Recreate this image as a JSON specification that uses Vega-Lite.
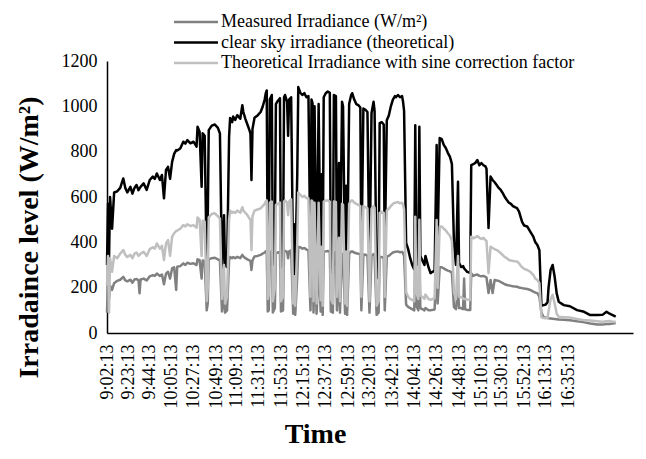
{
"$schema": "https://vega.github.io/schema/vega-lite/v6.json",
"width": 526,
"height": 272,
"autosize": {"type": "none"},
"padding": {"left": 107, "top": 61, "right": 13, "bottom": 126},
"background": "white",
"config": {"font": "Liberation Serif", "view": {"stroke": null}},
"data": {"format": {"parse": {"t": "date:'%H:%M'"}}, "values": [
{"t":"09:02","c":300,"s":210,"m":90},
{"t":"09:03","c":570,"s":340,"m":240},
{"t":"09:04","c":330,"s":90,"m":150},
{"t":"09:05","c":600,"s":330,"m":210},
{"t":"09:07","c":460,"s":270,"m":190},
{"t":"09:09","c":620,"s":340,"m":220},
{"t":"09:12","c":625,"s":330,"m":230},
{"t":"09:15","c":640,"s":350,"m":235},
{"t":"09:18","c":682,"s":366,"m":248},
{"t":"09:20","c":640,"s":345,"m":232},
{"t":"09:22","c":620,"s":335,"m":228},
{"t":"09:25","c":645,"s":345,"m":235},
{"t":"09:27","c":615,"s":330,"m":222},
{"t":"09:29","c":640,"s":350,"m":236},
{"t":"09:31","c":653,"s":355,"m":238},
{"t":"09:33","c":630,"s":340,"m":232},
{"t":"09:34","c":638,"s":345,"m":175},
{"t":"09:35","c":645,"s":350,"m":236},
{"t":"09:38","c":660,"s":358,"m":240},
{"t":"09:41","c":631,"s":340,"m":232},
{"t":"09:44","c":675,"s":370,"m":250},
{"t":"09:47","c":690,"s":378,"m":255},
{"t":"09:49","c":680,"s":372,"m":252},
{"t":"09:51","c":704,"s":395,"m":262},
{"t":"09:54","c":675,"s":372,"m":252},
{"t":"09:56","c":697,"s":385,"m":258},
{"t":"09:58","c":594,"s":322,"m":215},
{"t":"10:00","c":719,"s":395,"m":262},
{"t":"10:02","c":733,"s":410,"m":270},
{"t":"10:04","c":680,"s":340,"m":240},
{"t":"10:06","c":755,"s":425,"m":285},
{"t":"10:08","c":790,"s":440,"m":290},
{"t":"10:10","c":807,"s":450,"m":190},
{"t":"10:11","c":805,"s":452,"m":292},
{"t":"10:14","c":814,"s":460,"m":295},
{"t":"10:17","c":844,"s":476,"m":307},
{"t":"10:19","c":835,"s":470,"m":300},
{"t":"10:21","c":851,"s":480,"m":310},
{"t":"10:24","c":837,"s":472,"m":305},
{"t":"10:27","c":844,"s":476,"m":308},
{"t":"10:29","c":830,"s":468,"m":302},
{"t":"10:30","c":822,"s":465,"m":300},
{"t":"10:31","c":910,"s":510,"m":325},
{"t":"10:33","c":888,"s":500,"m":322},
{"t":"10:35","c":645,"s":340,"m":240},
{"t":"10:36","c":881,"s":495,"m":320},
{"t":"10:38","c":870,"s":492,"m":318},
{"t":"10:40","c":300,"s":140,"m":100},
{"t":"10:41","c":500,"s":200,"m":130},
{"t":"10:42","c":895,"s":510,"m":325},
{"t":"10:45","c":915,"s":525,"m":330},
{"t":"10:48","c":920,"s":528,"m":332},
{"t":"10:51","c":905,"s":515,"m":325},
{"t":"10:53","c":880,"s":505,"m":320},
{"t":"10:55","c":280,"s":150,"m":95},
{"t":"10:57","c":520,"s":300,"m":180},
{"t":"10:58","c":300,"s":130,"m":90},
{"t":"11:00","c":290,"s":160,"m":100},
{"t":"11:02","c":866,"s":500,"m":320},
{"t":"11:03","c":948,"s":540,"m":335},
{"t":"11:05","c":930,"s":530,"m":330},
{"t":"11:06","c":955,"s":535,"m":335},
{"t":"11:08","c":940,"s":530,"m":330},
{"t":"11:10","c":961,"s":540,"m":336},
{"t":"11:13","c":945,"s":530,"m":330},
{"t":"11:15","c":1005,"s":555,"m":345},
{"t":"11:16","c":975,"s":540,"m":338},
{"t":"11:18","c":945,"s":530,"m":330},
{"t":"11:20","c":920,"s":520,"m":325},
{"t":"11:22","c":895,"s":505,"m":320},
{"t":"11:23","c":880,"s":500,"m":318},
{"t":"11:24","c":675,"s":366,"m":278},
{"t":"11:25","c":900,"s":515,"m":320},
{"t":"11:27","c":950,"s":540,"m":338},
{"t":"11:30","c":960,"s":545,"m":340},
{"t":"11:33","c":975,"s":550,"m":345},
{"t":"11:35","c":998,"s":560,"m":350},
{"t":"11:37","c":1030,"s":570,"m":355},
{"t":"11:38","c":1057,"s":580,"m":360},
{"t":"11:39","c":1070,"s":585,"m":362},
{"t":"11:40","c":280,"s":150,"m":95},
{"t":"11:41","c":300,"s":170,"m":100},
{"t":"11:42","c":1030,"s":575,"m":358},
{"t":"11:44","c":1050,"s":580,"m":360},
{"t":"11:45","c":300,"s":140,"m":90},
{"t":"11:47","c":420,"s":200,"m":110},
{"t":"11:48","c":1010,"s":565,"m":352},
{"t":"11:50","c":1025,"s":570,"m":355},
{"t":"11:52","c":1036,"s":575,"m":358},
{"t":"11:53","c":290,"s":140,"m":95},
{"t":"11:55","c":300,"s":160,"m":100},
{"t":"11:56","c":1040,"s":580,"m":360},
{"t":"11:57","c":1050,"s":585,"m":362},
{"t":"11:59","c":1020,"s":575,"m":358},
{"t":"12:00","c":870,"s":520,"m":330},
{"t":"12:01","c":1030,"s":580,"m":360},
{"t":"12:03","c":1040,"s":590,"m":365},
{"t":"12:05","c":260,"s":130,"m":85},
{"t":"12:06","c":480,"s":250,"m":150},
{"t":"12:07","c":250,"s":120,"m":80},
{"t":"12:09","c":700,"s":400,"m":250},
{"t":"12:10","c":1085,"s":620,"m":380},
{"t":"12:12","c":1060,"s":610,"m":378},
{"t":"12:14","c":1050,"s":600,"m":372},
{"t":"12:16","c":1058,"s":605,"m":375},
{"t":"12:18","c":1040,"s":595,"m":368},
{"t":"12:20","c":1045,"s":595,"m":365},
{"t":"12:22","c":300,"s":160,"m":100},
{"t":"12:23","c":1030,"s":585,"m":360},
{"t":"12:24","c":1014,"s":580,"m":355},
{"t":"12:25","c":270,"s":140,"m":90},
{"t":"12:26","c":1000,"s":575,"m":352},
{"t":"12:28","c":260,"s":130,"m":85},
{"t":"12:29","c":600,"s":300,"m":180},
{"t":"12:30","c":1010,"s":575,"m":352},
{"t":"12:32","c":280,"s":145,"m":95},
{"t":"12:33","c":700,"s":380,"m":240},
{"t":"12:34","c":250,"s":120,"m":80},
{"t":"12:35","c":1040,"s":580,"m":358},
{"t":"12:37","c":1058,"s":585,"m":360},
{"t":"12:39","c":1065,"s":585,"m":362},
{"t":"12:41","c":1060,"s":580,"m":358},
{"t":"12:42","c":290,"s":150,"m":95},
{"t":"12:44","c":260,"s":130,"m":90},
{"t":"12:45","c":1050,"s":580,"m":356},
{"t":"12:47","c":1045,"s":578,"m":355},
{"t":"12:48","c":300,"s":160,"m":100},
{"t":"12:50","c":750,"s":420,"m":270},
{"t":"12:51","c":280,"s":140,"m":90},
{"t":"12:53","c":1020,"s":570,"m":350},
{"t":"12:54","c":1000,"s":565,"m":348},
{"t":"12:56","c":270,"s":130,"m":85},
{"t":"12:57","c":650,"s":360,"m":230},
{"t":"12:58","c":260,"s":120,"m":80},
{"t":"13:00","c":1010,"s":570,"m":350},
{"t":"13:02","c":1050,"s":585,"m":360},
{"t":"13:03","c":1058,"s":585,"m":360},
{"t":"13:05","c":1030,"s":575,"m":355},
{"t":"13:07","c":1010,"s":570,"m":352},
{"t":"13:09","c":1005,"s":565,"m":350},
{"t":"13:11","c":995,"s":560,"m":348},
{"t":"13:12","c":300,"s":160,"m":100},
{"t":"13:14","c":990,"s":560,"m":346},
{"t":"13:16","c":985,"s":555,"m":345},
{"t":"13:18","c":975,"s":550,"m":342},
{"t":"13:20","c":270,"s":140,"m":90},
{"t":"13:22","c":970,"s":548,"m":340},
{"t":"13:24","c":1020,"s":560,"m":348},
{"t":"13:25","c":980,"s":552,"m":342},
{"t":"13:27","c":240,"s":120,"m":80},
{"t":"13:28","c":260,"s":130,"m":85},
{"t":"13:29","c":280,"s":140,"m":90},
{"t":"13:30","c":926,"s":530,"m":335},
{"t":"13:32","c":930,"s":535,"m":335},
{"t":"13:34","c":920,"s":530,"m":332},
{"t":"13:35","c":330,"s":160,"m":100},
{"t":"13:37","c":939,"s":540,"m":338},
{"t":"13:39","c":960,"s":548,"m":340},
{"t":"13:41","c":1000,"s":560,"m":348},
{"t":"13:43","c":1030,"s":570,"m":355},
{"t":"13:45","c":1045,"s":575,"m":358},
{"t":"13:46","c":1040,"s":575,"m":358},
{"t":"13:48","c":1050,"s":578,"m":360},
{"t":"13:50","c":1040,"s":572,"m":356},
{"t":"13:52","c":1045,"s":575,"m":358},
{"t":"13:53","c":1020,"s":565,"m":352},
{"t":"13:54","c":980,"s":545,"m":340},
{"t":"13:56","c":397,"s":180,"m":125},
{"t":"13:58","c":370,"s":160,"m":115},
{"t":"14:00","c":330,"s":150,"m":110},
{"t":"14:02","c":300,"s":146,"m":105},
{"t":"14:04","c":280,"s":140,"m":100},
{"t":"14:05","c":917,"s":513,"m":322},
{"t":"14:06","c":380,"s":180,"m":120},
{"t":"14:08","c":300,"s":150,"m":100},
{"t":"14:09","c":910,"s":500,"m":310},
{"t":"14:10","c":340,"s":165,"m":110},
{"t":"14:12","c":320,"s":160,"m":105},
{"t":"14:14","c":300,"s":150,"m":100},
{"t":"14:15","c":340,"s":170,"m":110},
{"t":"14:18","c":290,"s":150,"m":100},
{"t":"14:20","c":264,"s":146,"m":100},
{"t":"14:22","c":270,"s":150,"m":102},
{"t":"14:24","c":275,"s":152,"m":104},
{"t":"14:26","c":829,"s":498,"m":309},
{"t":"14:27","c":400,"s":200,"m":130},
{"t":"14:29","c":860,"s":469,"m":290},
{"t":"14:31","c":855,"s":470,"m":290},
{"t":"14:33","c":830,"s":460,"m":285},
{"t":"14:35","c":816,"s":452,"m":280},
{"t":"14:37","c":795,"s":440,"m":275},
{"t":"14:39","c":778,"s":430,"m":272},
{"t":"14:40","c":763,"s":418,"m":270},
{"t":"14:41","c":745,"s":405,"m":265},
{"t":"14:43","c":400,"s":180,"m":115},
{"t":"14:45","c":300,"s":150,"m":105},
{"t":"14:47","c":667,"s":340,"m":200},
{"t":"14:48","c":310,"s":160,"m":110},
{"t":"14:50","c":291,"s":159,"m":110},
{"t":"14:52","c":295,"s":152,"m":105},
{"t":"14:53","c":285,"s":150,"m":240},
{"t":"14:54","c":280,"s":150,"m":105},
{"t":"14:56","c":270,"s":148,"m":102},
{"t":"14:59","c":265,"s":146,"m":101},
{"t":"15:00","c":741,"s":425,"m":264},
{"t":"15:02","c":745,"s":418,"m":252},
{"t":"15:04","c":750,"s":422,"m":256},
{"t":"15:06","c":763,"s":428,"m":258},
{"t":"15:08","c":740,"s":420,"m":252},
{"t":"15:10","c":750,"s":415,"m":250},
{"t":"15:12","c":740,"s":420,"m":252},
{"t":"15:14","c":735,"s":410,"m":248},
{"t":"15:15","c":725,"s":405,"m":245},
{"t":"15:17","c":463,"s":264,"m":176},
{"t":"15:19","c":690,"s":381,"m":234},
{"t":"15:21","c":675,"s":375,"m":176},
{"t":"15:23","c":665,"s":370,"m":234},
{"t":"15:25","c":653,"s":366,"m":232},
{"t":"15:27","c":640,"s":360,"m":230},
{"t":"15:29","c":631,"s":352,"m":225},
{"t":"15:31","c":617,"s":344,"m":220},
{"t":"15:33","c":600,"s":335,"m":215},
{"t":"15:35","c":587,"s":330,"m":212},
{"t":"15:37","c":575,"s":322,"m":210},
{"t":"15:39","c":570,"s":320,"m":208},
{"t":"15:41","c":560,"s":318,"m":206},
{"t":"15:43","c":555,"s":316,"m":205},
{"t":"15:45","c":551,"s":315,"m":204},
{"t":"15:47","c":535,"s":308,"m":201},
{"t":"15:48","c":520,"s":300,"m":200},
{"t":"15:50","c":490,"s":290,"m":198},
{"t":"15:52","c":474,"s":283,"m":196},
{"t":"15:55","c":470,"s":278,"m":194},
{"t":"15:58","c":447,"s":270,"m":190},
{"t":"16:01","c":425,"s":256,"m":183},
{"t":"16:03","c":400,"s":240,"m":178},
{"t":"16:05","c":388,"s":234,"m":176},
{"t":"16:07","c":365,"s":220,"m":160},
{"t":"16:09","c":120,"s":70,"m":90},
{"t":"16:11","c":123,"s":66,"m":70},
{"t":"16:13","c":125,"s":65,"m":68},
{"t":"16:15","c":135,"s":66,"m":66},
{"t":"16:16","c":200,"s":95,"m":65},
{"t":"16:18","c":278,"s":150,"m":64},
{"t":"16:20","c":300,"s":168,"m":63},
{"t":"16:22","c":248,"s":130,"m":62},
{"t":"16:24","c":175,"s":85,"m":61},
{"t":"16:26","c":138,"s":72,"m":60},
{"t":"16:31","c":123,"s":70,"m":58},
{"t":"16:37","c":118,"s":68,"m":56},
{"t":"16:44","c":101,"s":62,"m":52},
{"t":"16:50","c":95,"s":57,"m":48},
{"t":"16:57","c":79,"s":55,"m":42},
{"t":"17:04","c":79,"s":52,"m":38},
{"t":"17:09","c":80,"s":50,"m":37},
{"t":"17:13","c":94,"s":52,"m":40},
{"t":"17:16","c":85,"s":53,"m":40},
{"t":"17:19","c":79,"s":50,"m":42},
{"t":"17:22","c":72,"s":50,"m":44}
]},
"transform": [{"fold": ["m", "c", "s"], "as": ["series", "value"]}],
"encoding": {
  "x": {"field": "t", "type": "temporal",
    "scale": {"domain": [{"year":1900,"month":1,"date":1,"hours":9,"minutes":2},{"year":1900,"month":1,"date":1,"hours":17,"minutes":39}]},
    "axis": {
      "values": [
        {"year":1900,"month":1,"date":1,"hours":9,"minutes":2,"seconds":13},
        {"year":1900,"month":1,"date":1,"hours":9,"minutes":23,"seconds":13},
        {"year":1900,"month":1,"date":1,"hours":9,"minutes":44,"seconds":13},
        {"year":1900,"month":1,"date":1,"hours":10,"minutes":5,"seconds":13},
        {"year":1900,"month":1,"date":1,"hours":10,"minutes":27,"seconds":13},
        {"year":1900,"month":1,"date":1,"hours":10,"minutes":49,"seconds":13},
        {"year":1900,"month":1,"date":1,"hours":11,"minutes":9,"seconds":13},
        {"year":1900,"month":1,"date":1,"hours":11,"minutes":31,"seconds":13},
        {"year":1900,"month":1,"date":1,"hours":11,"minutes":53,"seconds":13},
        {"year":1900,"month":1,"date":1,"hours":12,"minutes":15,"seconds":13},
        {"year":1900,"month":1,"date":1,"hours":12,"minutes":37,"seconds":13},
        {"year":1900,"month":1,"date":1,"hours":12,"minutes":59,"seconds":13},
        {"year":1900,"month":1,"date":1,"hours":13,"minutes":20,"seconds":13},
        {"year":1900,"month":1,"date":1,"hours":13,"minutes":42,"seconds":13},
        {"year":1900,"month":1,"date":1,"hours":14,"minutes":4,"seconds":13},
        {"year":1900,"month":1,"date":1,"hours":14,"minutes":26,"seconds":13},
        {"year":1900,"month":1,"date":1,"hours":14,"minutes":48,"seconds":13},
        {"year":1900,"month":1,"date":1,"hours":15,"minutes":10,"seconds":13},
        {"year":1900,"month":1,"date":1,"hours":15,"minutes":30,"seconds":13},
        {"year":1900,"month":1,"date":1,"hours":15,"minutes":52,"seconds":13},
        {"year":1900,"month":1,"date":1,"hours":16,"minutes":13,"seconds":13},
        {"year":1900,"month":1,"date":1,"hours":16,"minutes":35,"seconds":13}
      ],
      "format": "%-H:%M:%S",
      "labelAngle": -90,
      "labelFont": "Liberation Serif",
      "labelFontSize": 18,
      "labelColor": "#000000",
      "labelPadding": 11,
      "labelOverlap": false,
      "labelBound": false,
      "ticks": false,
      "grid": false,
      "domainColor": "#000000",
      "domainWidth": 1.5,
      "title": "Time",
      "titleFont": "Liberation Serif",
      "titleFontSize": 28,
      "titleFontWeight": "bold",
      "titleColor": "#000000",
      "titleX": 208,
      "titlePadding": 12
    }
  },
  "y": {"field": "value", "type": "quantitative",
    "scale": {"domain": [0, 1200]},
    "axis": {
      "values": [0, 200, 400, 600, 800, 1000, 1200],
      "format": "d",
      "ticks": false,
      "grid": false,
      "domainColor": "#000000",
      "domainWidth": 1.5,
      "labelFont": "Liberation Serif",
      "labelFontSize": 18,
      "labelColor": "#000000",
      "labelPadding": 10,
      "title": "Irradaince level (W/m²)",
      "titleFont": "Liberation Serif",
      "titleFontSize": 28,
      "titleFontWeight": "bold",
      "titleColor": "#000000",
      "titleX": -64,
      "titleY": 176
    }
  },
  "color": {"field": "series", "type": "nominal",
    "scale": {"domain": ["m", "c", "s"], "range": ["#808080", "#000000", "#bfbfbf"]},
    "legend": {
      "orient": "none",
      "legendX": 80,
      "legendY": -48,
      "title": null,
      "symbolType": "M-4,0L4,0",
      "symbolSize": 121,
      "symbolStrokeWidth": 2.5,
      "labelFont": "Liberation Serif",
      "labelFontSize": 18,
      "labelColor": "#000000",
      "labelOffset": 16,
      "labelLimit": 0,
      "rowPadding": 2.5,
      "labelExpr": "datum.label == 'm' ? 'Measured Irradiance (W/m²)' : datum.label == 'c' ? 'clear sky irradiance (theoretical)' : 'Theoretical Irradiance with sine correction factor'"
    }
  }
},
"layer": [
  {"transform": [{"filter": "datum.series == 'm'"}], "mark": {"type": "line", "strokeWidth": 2.5, "strokeJoin": "round"}},
  {"transform": [{"filter": "datum.series == 'c'"}], "mark": {"type": "line", "strokeWidth": 2.5, "strokeJoin": "round"}},
  {"transform": [{"filter": "datum.series == 's'"}], "mark": {"type": "line", "strokeWidth": 2.5, "strokeJoin": "round"}}
]
}
